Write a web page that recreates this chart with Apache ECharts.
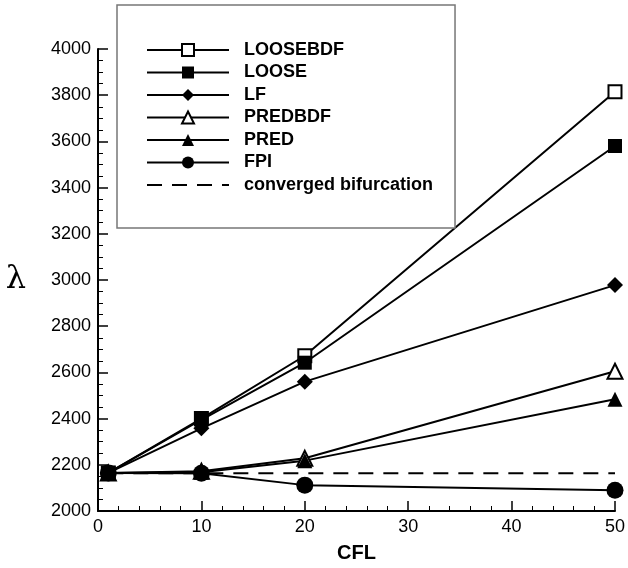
<!DOCTYPE html>
<html>
<head>
<meta charset="utf-8">
<script src="https://cdn.jsdelivr.net/npm/echarts@6/dist/echarts.min.js"></script>
<style>
  html, body { margin: 0; padding: 0; background: #fff; }
  #chart { width: 628px; height: 568px; }
</style>
</head>
<body>
<div id="chart"></div>
<script>
// CFL values on the x axis
const cfl = [1, 10, 20, 50]
// lambda values per method
const looseBdf = [2165, 2400, 2672, 3815]
const loose = [2165, 2395, 2642, 3580]
const lf = [2165, 2358, 2560, 2978]
const predBdf = [2165, 2172, 2228, 2605]
const pred = [2165, 2168, 2218, 2484]
const fpi = [2165, 2163, 2112, 2090]
// converged bifurcation level, drawn across the CFL range
const convergedX = [1, 50]
const convergedY = [2163, 2163]

const names = ['LOOSEBDF', 'LOOSE', 'LF', 'PREDBDF', 'PRED', 'FPI', 'converged bifurcation']

const chart = echarts.init(document.getElementById('chart'))

function pairs(xs, ys) {
  return xs.map((x, i) => [x, ys[i]])
}

function lineSeries(name, values, symbol, size) {
  return {
    name: name,
    type: 'line',
    data: pairs(cfl, values),
    symbol: symbol,
    symbolSize: size,
    showSymbol: true,
    lineStyle: { color: '#000', width: 2 },
    itemStyle: { color: '#000', borderWidth: 1 },
    emphasis: { disabled: true },
  }
}

const font = '"Liberation Sans", Arial, Helvetica, sans-serif'

const option = {
  animation: false,
  backgroundColor: '#fff',
  grid: { left: 98, right: 10, top: 49, bottom: 47 },
  legend: {
    orient: 'vertical',
    left: 117,
    top: 5,
    padding: [36, 22, 34, 29],
    borderColor: '#777',
    borderWidth: 1.5,
    borderRadius: 0,
    backgroundColor: '#fff',
    itemWidth: 82,
    itemHeight: 15,
    itemGap: 4.5,
    lineStyle: { width: 2, color: '#000' },
    data: names.map(n => n === 'converged bifurcation'
      ? { name: n, itemStyle: { opacity: 0, borderWidth: 0 } }
      : { name: n }),
    textStyle: {
      color: '#000',
      fontFamily: font,
      fontWeight: 'bold',
      fontSize: 18,
      padding: [0, 0, 0, 10],
    },
  },
  xAxis: {
    type: 'value',
    min: 0,
    max: 50,
    interval: 10,
    name: 'CFL',
    nameLocation: 'middle',
    nameGap: 32,
    nameTextStyle: { color: '#000', fontFamily: font, fontWeight: 'bold', fontSize: 20 },
    axisLine: { lineStyle: { color: '#000', width: 2 } },
    axisTick: { inside: true, length: 10, lineStyle: { color: '#000', width: 1.5 } },
    minorTick: { show: true, splitNumber: 5, length: 5, lineStyle: { color: '#000', width: 1 } },
    splitLine: { show: false },
    axisLabel: { color: '#000', fontFamily: font, fontSize: 18, margin: 7 },
  },
  yAxis: {
    type: 'value',
    min: 2000,
    max: 4000,
    interval: 200,
    name: '\u03bb',
    nameLocation: 'middle',
    nameRotate: 0,
    nameGap: 72,
    nameTextStyle: { color: '#000', fontFamily: '"DejaVu Serif", "Liberation Serif", serif', fontSize: 32 },
    axisLine: { show: true, lineStyle: { color: '#000', width: 2 } },
    axisTick: { show: true, inside: true, length: 10, lineStyle: { color: '#000', width: 1.5 } },
    minorTick: { show: true, splitNumber: 4, length: 5, lineStyle: { color: '#000', width: 1 } },
    splitLine: { show: false },
    axisLabel: { color: '#000', fontFamily: font, fontSize: 18, margin: 7, formatter: v => String(v) },
  },
  series: [
    {
      name: 'converged bifurcation',
      type: 'line',
      data: pairs(convergedX, convergedY),
      symbol: 'none',
      lineStyle: { color: '#000', width: 2, type: [15, 10] },
      itemStyle: { color: '#000' },
      emphasis: { disabled: true },
    },
    lineSeries('LOOSEBDF', looseBdf, 'emptyRect', 13),
    lineSeries('LOOSE', loose, 'rect', 14),
    lineSeries('LF', lf, 'diamond', 16),
    lineSeries('PREDBDF', predBdf, 'emptyTriangle', 15),
    lineSeries('PRED', pred, 'triangle', 15),
    lineSeries('FPI', fpi, 'circle', 17),
  ],
}

option && chart.setOption(option)
</script>
</body>
</html>
